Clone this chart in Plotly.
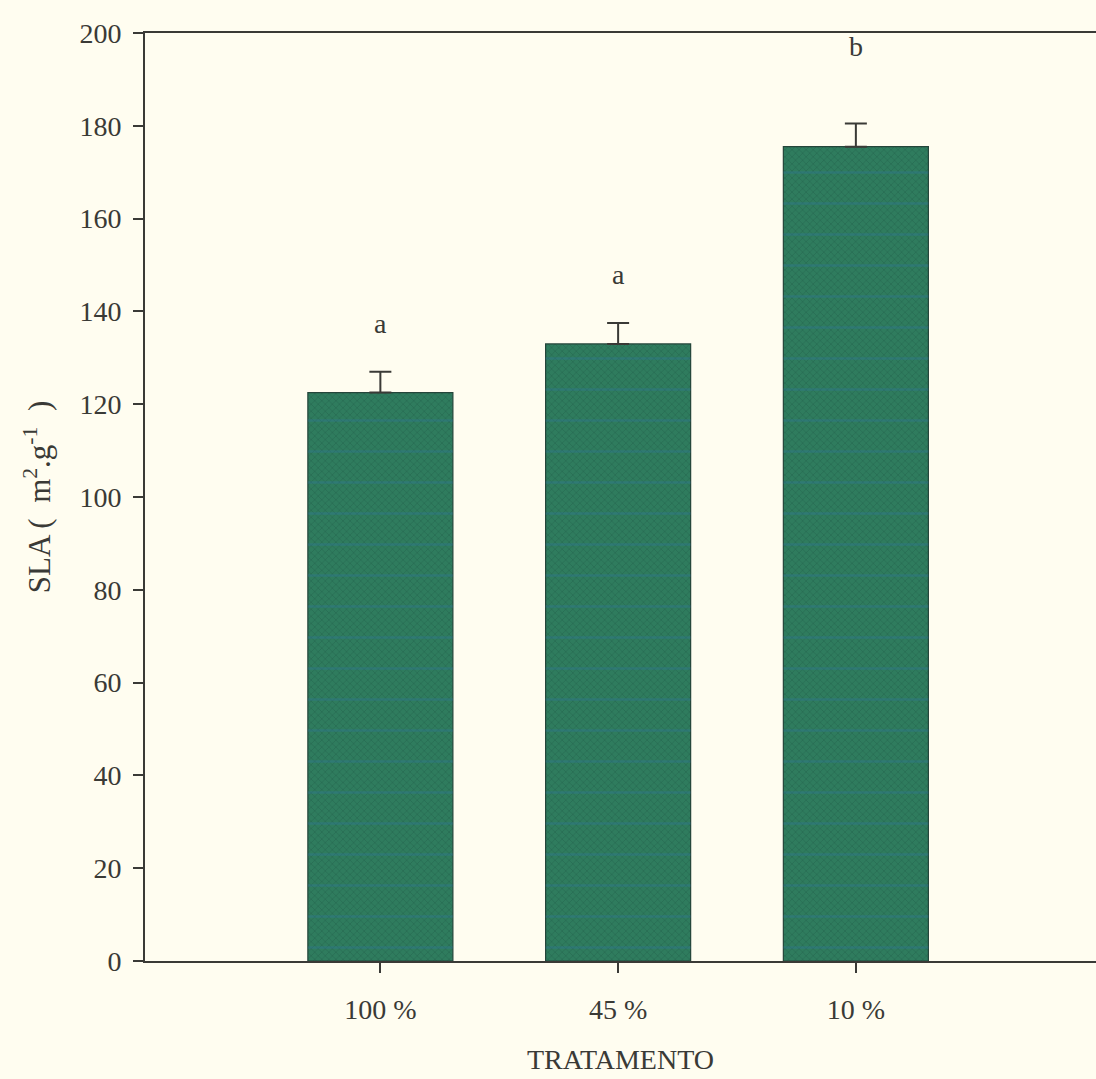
import plotly.graph_objects as go

# SLA by treatment
categories = ["100 %", "45 %", "10 %"]
sla_mean = [122.5, 133.0, 175.5]
sla_err = [4.5, 4.5, 5.0]
letters = ["a", "a", "b"]
letter_y = [137.5, 148.0, 197.0]
y_ticks = [0, 20, 40, 60, 80, 100, 120, 140, 160, 180, 200]

x_pos = list(range(len(categories)))
ink = "#3a3a36"
font_family = "Liberation Serif, Times New Roman, serif"
fs = 28

fig = go.Figure()

# main bars with a fine crosshatch fill and one-sided error bars
fig.add_trace(go.Bar(
    x=x_pos, y=sla_mean, width=0.61,
    marker=dict(
        color="#2f7c5e",
        line=dict(color="#24453a", width=1.2),
        pattern=dict(shape="x", fgcolor="#22604a", size=5, solidity=0.3),
    ),
    error_y=dict(type="data", symmetric=False, array=sla_err,
                 arrayminus=[0] * len(sla_err),
                 color=ink, thickness=2, width=11),
    showlegend=False,
))

# faint horizontal banding over the same bars
fig.add_trace(go.Bar(
    x=x_pos, y=sla_mean, width=0.61,
    marker=dict(
        color="rgba(0,0,0,0)",
        line=dict(width=0),
        pattern=dict(shape="-", fgcolor="rgba(45,115,165,0.6)",
                     bgcolor="rgba(0,0,0,0)", size=31, solidity=0.08),
    ),
    showlegend=False, hoverinfo="skip",
))

for xi, lab, ly in zip(x_pos, letters, letter_y):
    fig.add_annotation(x=xi, y=ly, text=lab, showarrow=False,
                       font=dict(family=font_family, size=fs, color=ink))

fig.update_layout(
    width=1096, height=1079,
    margin=dict(l=145, r=0, t=33, b=118),
    paper_bgcolor="#fffdf0", plot_bgcolor="#fffdf0",
    barmode="overlay",
    font=dict(family=font_family, size=fs, color=ink),
    xaxis=dict(
        range=[-0.99, 3.01], tickmode="array", tickvals=x_pos, ticktext=categories,
        showline=True, linecolor=ink, linewidth=2, mirror=True,
        ticks="outside", ticklen=10, tickwidth=2, tickcolor=ink,
        showgrid=False, zeroline=False, ticklabelstandoff=12,
        title=dict(text="TRATAMENTO", standoff=26, font=dict(size=fs)),
        tickfont=dict(size=fs),
    ),
    yaxis=dict(
        range=[0, 200], tickmode="array", tickvals=y_ticks,
        showline=True, linecolor=ink, linewidth=2, mirror=False,
        ticks="outside", ticklen=10, tickwidth=2, tickcolor=ink,
        showgrid=False, zeroline=False, ticklabelstandoff=6,
        title=dict(text="SLA (  m<sup>2</sup>.g<sup>-1</sup>  )", standoff=20,
                   font=dict(size=31)),
        tickfont=dict(size=fs),
    ),
)

fig.write_html("out.html")
